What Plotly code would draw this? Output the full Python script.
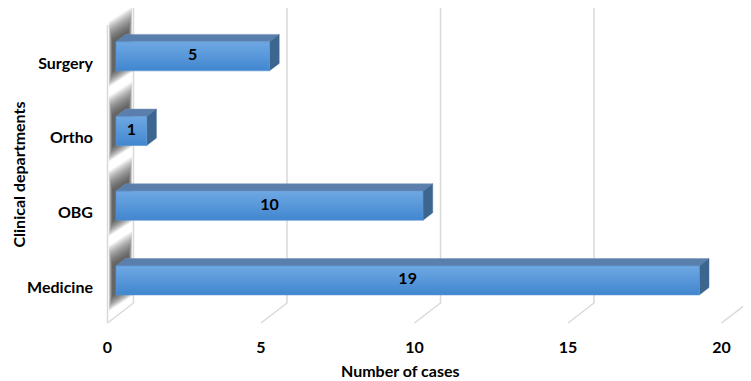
import plotly.graph_objects as go

# ---- data ----
categories = ["Medicine", "OBG", "Ortho", "Surgery"]
cases = [19, 10, 1, 5]
x_ticks = [0, 5, 10, 15, 20]

# ---- 3D projection settings (in axis units) ----
DX = 0.847      # depth offset along value axis (front -> back)
DY = 0.268      # depth offset along category axis
D1, D2 = 0.327, 0.70   # bar front/back depth fractions
H = 0.388       # bar thickness (category units)
FLOOR = -0.482
TOP_FRONT = 3.507

# figure is placed by the page with an 8px body margin
W, HT = 743, 373
PX0, PXS = 99.5, 30.7     # x pixel of value 0 (front plane), px per unit
PY0, PYS = 279.0, 74.7    # y pixel of category 0 (front plane), px per category
L, B = 92, 51

fig = go.Figure()
grid_col = "#d9d9d9"

def poly(xs, ys, **kw):
    fig.add_trace(go.Scatter(x=xs + [xs[0]], y=ys + [ys[0]], mode="lines",
                             fill="toself", hoverinfo="skip", showlegend=False, **kw))

def line(xs, ys, color=grid_col, width=1.5):
    fig.add_trace(go.Scatter(x=xs, y=ys, mode="lines", line=dict(color=color, width=width),
                             hoverinfo="skip", showlegend=False))

# back-wall gridlines and floor lines
for g in x_ticks:
    line([g, g + DX, g + DX], [FLOOR, FLOOR + DY, TOP_FRONT + DY])
# left wall front edge
line([0, 0], [FLOOR, TOP_FRONT])

# blurred shadows on the left wall (concentric translucent layers)
N = 14
for i, v in enumerate(cases):
    c = i
    for k in range(N):
        f = k / N
        e_up = 0.30 * (1 - f)
        e_dn = 0.18 * (1 - f)
        pad = 0.04 + 0.30 * DX * f * 0.5
        xa, xb = pad, DX - pad
        ya = [c + (xa / DX) * DY, c + (xb / DX) * DY]
        poly([xa, xb, xb, xa],
             [ya[0] - H / 2 - e_dn + 0.04, ya[1] - H / 2 - e_dn,
              ya[1] + H / 2 + e_up, ya[0] + H / 2 + e_up + 0.04],
             line=dict(width=0), fillcolor="rgba(25,25,25,0.075)")

# bars
for i, v in enumerate(cases):
    c = i
    x1, y1 = D1 * DX, c + D1 * DY
    x2, y2 = D2 * DX, c + D2 * DY
    # top face
    poly([x1, v + x1, v + x2, x2],
         [y1 + H / 2, y1 + H / 2, y2 + H / 2, y2 + H / 2],
         line=dict(width=0.5, color="#6f90b8"), fillcolor="#5a7fac")
    # side face
    poly([v + x1, v + x2, v + x2, v + x1],
         [y1 + H / 2, y2 + H / 2, y2 - H / 2, y1 - H / 2],
         line=dict(width=0.5, color="#44709a"), fillcolor="#3c6690")
    # front face with vertical gradient
    fig.add_trace(go.Scatter(
        x=[x1, v + x1, v + x1, x1, x1],
        y=[y1 - H / 2, y1 - H / 2, y1 + H / 2, y1 + H / 2, y1 - H / 2],
        mode="lines", fill="toself", hoverinfo="skip", showlegend=False,
        line=dict(width=0.6, color="#5b95d2"),
        fillgradient=dict(type="vertical",
                          colorscale=[[0, "#4186cf"], [1, "#6ea8e3"]])))

font = dict(family="Lato", size=16, color="black", weight="bold")

# value labels
fig.add_trace(go.Scatter(
    x=[v / 2 + D1 * DX for v in cases],
    y=[i + D1 * DY for i in range(len(cases))],
    text=[str(v) for v in cases], mode="text",
    textfont=font, hoverinfo="skip", showlegend=False))

fig.update_layout(
    width=W, height=HT,
    margin=dict(l=L, r=0, t=0, b=B),
    paper_bgcolor="white", plot_bgcolor="white",
    showlegend=False,
    xaxis=dict(range=[(L - PX0) / PXS, (W - PX0) / PXS],
               tickvals=x_ticks, ticktext=[str(t) for t in x_ticks],
               tickfont=font, showgrid=False, zeroline=False, showline=False,
               ticks="", ticklabelstandoff=6),
    yaxis=dict(range=[(PY0 - (HT - B)) / PYS, PY0 / PYS],
               tickvals=list(range(len(categories))), ticktext=categories,
               tickfont=font, showgrid=False, zeroline=False, showline=False,
               ticks="", ticklabelstandoff=6),
    annotations=[
        dict(text="Number of cases", font=font, xref="paper", yref="paper",
             x=(392 - L) / (W - L), y=-(362 - (HT - B)) / (HT - B - 0),
             showarrow=False, xanchor="center", yanchor="middle"),
        dict(text="Clinical departments", font=font, textangle=-90,
             xref="paper", yref="paper", borderpad=0,
             x=-(L - 0) / (W - L), y=((HT - B) - 167) / (HT - B),
             showarrow=False, xanchor="left", yanchor="middle"),
    ],
)

fig.write_html("out.html")
